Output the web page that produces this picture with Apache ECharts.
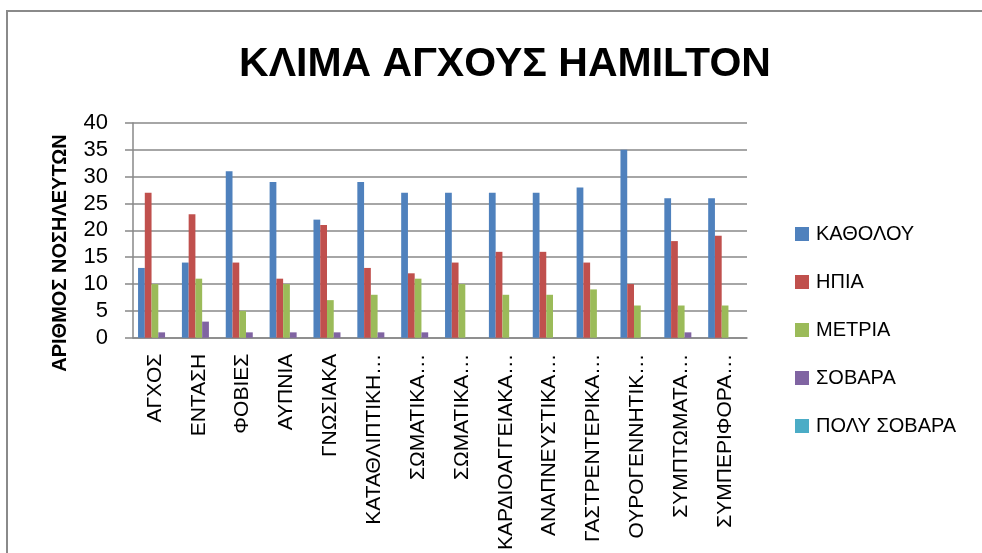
<!DOCTYPE html>
<html>
<head>
<meta charset="utf-8">
<script src="https://cdn.jsdelivr.net/npm/echarts@6/dist/echarts.min.js"></script>
<style>
  html, body { margin: 0; padding: 0; background: #fff; }
  #chart { width: 982px; height: 553px; }
</style>
</head>
<body>
<div id="chart"></div>
<script>
// Hamilton anxiety scale items and number of nurses per severity level
const categories = [
  'ΑΓΧΟΣ', 'ΕΝΤΑΣΗ', 'ΦΟΒΙΕΣ', 'ΑΥΠΝΙΑ', 'ΓΝΩΣΙΑΚΑ', 'ΚΑΤΑΘΛΙΠΤΙΚΗ…',
  'ΣΩΜΑΤΙΚΑ…', 'ΣΩΜΑΤΙΚΑ…', 'ΚΑΡΔΙΟΑΓΓΕΙΑΚΑ…', 'ΑΝΑΠΝΕΥΣΤΙΚΑ…',
  'ΓΑΣΤΡΕΝΤΕΡΙΚΑ…', 'ΟΥΡΟΓΕΝΝΗΤΙΚ…', 'ΣΥΜΠΤΩΜΑΤΑ…', 'ΣΥΜΠΕΡΙΦΟΡΑ…'
];
const seriesNames = ['ΚΑΘΟΛΟΥ', 'ΗΠΙΑ', 'ΜΕΤΡΙΑ', 'ΣΟΒΑΡΑ', 'ΠΟΛΥ ΣΟΒΑΡΑ'];
const kathólou   = [13, 14, 31, 29, 22, 29, 27, 27, 27, 27, 28, 35, 26, 26];
const ipia       = [27, 23, 14, 11, 21, 13, 12, 14, 16, 16, 14, 10, 18, 19];
const metria     = [10, 11, 5, 10, 7, 8, 11, 10, 8, 8, 9, 6, 6, 6];
const sovara     = [1, 3, 1, 1, 1, 1, 1, 0, 0, 0, 0, 0, 1, 0];
const polySovara = [0, 0, 0, 0, 0, 0, 0, 0, 0, 0, 0, 0, 0, 0];
const yTicks = { min: 0, max: 40, interval: 5 };

const colors = ['#4F81BD', '#C0504D', '#9BBB59', '#8064A2', '#4BACC6'];
const values = [kathólou, ipia, metria, sovara, polySovara];
const font = '"Liberation Sans", Arial, sans-serif';
const gridColor = '#888888';

const chart = echarts.init(document.getElementById('chart'), null, { renderer: 'canvas' });

chart.setOption({
  animation: false,
  backgroundColor: '#ffffff',
  color: colors,
  textStyle: { fontFamily: font, color: '#000' },
  title: {
    text: 'ΚΛΙΜΑ ΑΓΧΟΥΣ HAMILTON',
    left: 500, top: 39, textAlign: 'center',
    textStyle: { fontFamily: font, fontSize: 41, fontWeight: 'bold', color: '#000' }
  },
  legend: {
    orient: 'vertical',
    left: 790, top: 219,
    itemWidth: 14, itemHeight: 14, itemGap: 28,
    icon: 'rect',
    data: seriesNames,
    textStyle: { fontFamily: font, fontSize: 20, color: '#000', padding: [0, 0, 0, 2] }
  },
  grid: { left: 133, top: 123, right: 235, bottom: 213, containLabel: false },
  xAxis: {
    type: 'category',
    data: categories,
    axisLine: { lineStyle: { color: gridColor, width: 1.5 } },
    axisTick: { show: false },
    axisLabel: {
      interval: 0, rotate: 90, margin: 16,
      fontFamily: font, fontSize: 21, color: '#000'
    }
  },
  yAxis: {
    type: 'value',
    min: yTicks.min, max: yTicks.max, interval: yTicks.interval,
    axisLine: { show: true, lineStyle: { color: gridColor, width: 1.5 } },
    axisTick: { show: true, inside: false, length: 8, lineStyle: { color: gridColor, width: 1.5 } },
    axisLabel: { margin: 25, fontFamily: font, fontSize: 22, color: '#000' },
    splitLine: { lineStyle: { color: gridColor, width: 1.5 } }
  },
  graphic: [
    {
      type: 'rect',
      shape: { x: 7, y: 11, width: 1000, height: 600 },
      style: { fill: 'none', stroke: '#8a8a8a', lineWidth: 2 },
      silent: true
    },
    {
      type: 'text',
      x: 60, y: 253, rotation: Math.PI / 2,
      style: {
        text: 'ΑΡΙΘΜΟΣ ΝΟΣΗΛΕΥΤΩΝ',
        fontFamily: font, fontSize: 20, fontWeight: 'bold', fill: '#000',
        align: 'center', verticalAlign: 'middle'
      }
    }
  ],
  series: seriesNames.map((name, i) => ({
    name,
    type: 'bar',
    data: values[i],
    barGap: '0%',
    barCategoryGap: '23%',
    itemStyle: { color: colors[i] }
  }))
});
</script>
</body>
</html>
